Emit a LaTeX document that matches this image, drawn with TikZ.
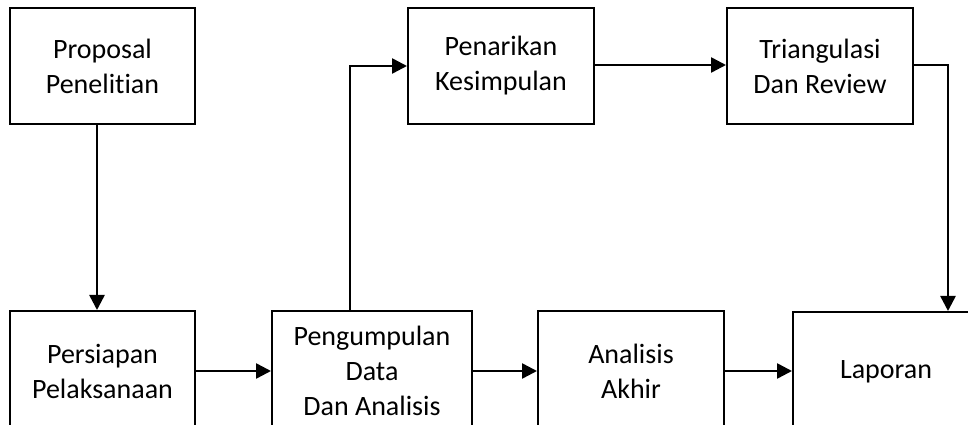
\documentclass[tikz,border=0pt]{standalone}
\usepackage{fontspec}
\setmainfont{Carlito}[Ligatures=NoCommon]
\usetikzlibrary{arrows.meta}
\begin{document}
\begin{tikzpicture}[x=1pt,y=1pt,
  box/.style={draw=black, line width=2pt, fill=white, inner sep=0pt, align=center,
    font=\fontsize{28}{35}\selectfont},
  topbox/.style={box, minimum width=186pt, minimum height=116pt},
  botbox/.style={box, minimum height=120pt},
  conn/.style={line width=2.5pt, -{Triangle[length=15pt,width=15pt]}},
  plain/.style={line width=2pt}]
\useasboundingbox (0,0) rectangle (968,425);
\clip (0,0) rectangle (968,425);
\node[topbox, minimum width=185pt] (prop) at (102.5,359) {Proposal\\Penelitian};
\node[topbox] (tarik) at (501,359) {Penarikan\\Kesimpulan};
\node[topbox] (tri) at (820,359) {Triangulasi\\Dan Review};
\node[botbox, minimum width=185pt] (siap) at (102.5,54) {Persiapan\\Pelaksanaan};
\node[botbox, minimum width=200pt] (kumpul) at (372,54) {Pengumpulan\\Data\\Dan Analisis};
\node[botbox, minimum width=186pt] (akhir) at (631,54) {Analisis\\Akhir};
\node[botbox, minimum width=186pt] (lapor) at (886,53) {Laporan};
\coordinate (bend1) at (350,359);
\coordinate (bend2) at (948,360);
\draw[conn] ([xshift=-5.5pt]prop.south) -- ([xshift=-5.5pt]siap.north);
\draw[conn] (siap.east) -- (kumpul.west);
\draw[conn] (kumpul.east) -- (akhir.west);
\draw[conn] (akhir.east) -- (akhir.east -| lapor.west);
\draw[conn] ([xshift=-22pt]kumpul.north) -- (bend1) -- (tarik.west);
\draw[conn] ([yshift=1pt]tarik.east) -- ([yshift=1pt]tri.west);
\draw[conn] ([yshift=1pt]tri.east) -- (bend2) -- (bend2 |- lapor.north);
\end{tikzpicture}
\end{document}
